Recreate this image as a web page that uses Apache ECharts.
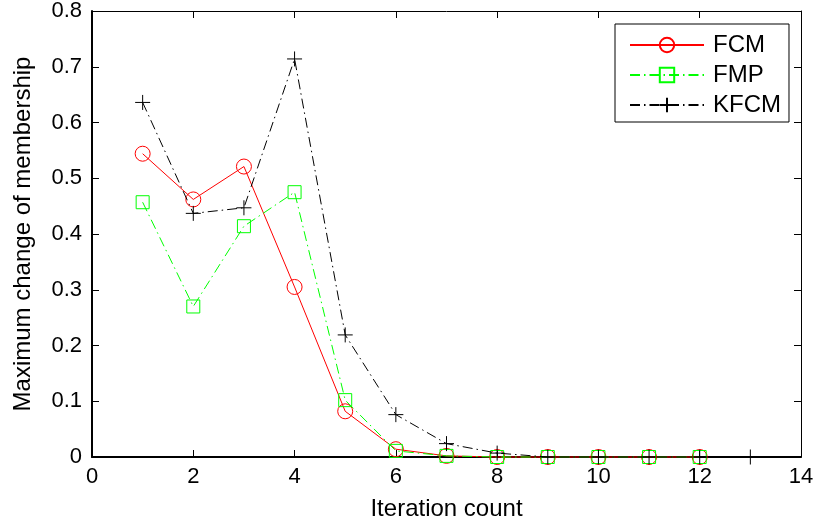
<!DOCTYPE html>
<html>
<head>
<meta charset="utf-8">
<script src="https://cdn.jsdelivr.net/npm/echarts@6/dist/echarts.min.js"></script>
<style>
  html, body { margin: 0; padding: 0; background: #fff; }
  #chart { width: 819px; height: 527px; }
</style>
</head>
<body>
<div id="chart"></div>
<script>
// Iteration index for each algorithm run
const iterFCM  = [1, 2, 3, 4, 5, 6, 7, 8, 9, 10, 11, 12];
const iterFMP  = [1, 2, 3, 4, 5, 6, 7, 8, 9, 10, 11, 12];
const iterKFCM = [1, 2, 3, 4, 5, 6, 7, 8, 9, 10, 11, 12, 13];

// Maximum change of membership per iteration
const valFCM  = [0.544, 0.462, 0.521, 0.305, 0.082, 0.014, 0.002, 0, 0, 0, 0, 0];
const valFMP  = [0.457, 0.270, 0.414, 0.475, 0.102, 0.011, 0.002, 0, 0, 0, 0, 0];
const valKFCM = [0.636, 0.437, 0.447, 0.714, 0.219, 0.076, 0.024, 0.007, 0, 0, 0, 0, 0];

// Axis tick settings
const xTicks = { min: 0, max: 14, interval: 2 };
const yTicks = { min: 0, max: 0.8, interval: 0.1 };

const seriesNames = ['FCM', 'FMP', 'KFCM'];

const FONT = 'Liberation Sans, Arial, Helvetica, sans-serif';
const pairs = (xs, ys) => xs.map((x, i) => [x, ys[i]]);

// Box-style axis: line plus inward ticks
const boxAxis = (lineWidth, extra) => Object.assign({
  axisLine: { show: true, onZero: false, lineStyle: { color: '#000', width: lineWidth } },
  axisTick: { show: true, inside: true, length: 7, lineStyle: { color: '#000', width: 1 } },
  splitLine: { show: false }
}, extra);

const chart = echarts.init(document.getElementById('chart'), null, { renderer: 'canvas' });

chart.setOption({
  backgroundColor: '#fff',
  animation: false,
  textStyle: { fontFamily: FONT, color: '#000' },
  grid: { left: 92, right: 18, top: 11, bottom: 70, containLabel: false },
  xAxis: [
    boxAxis(2, {
      type: 'value', position: 'bottom',
      min: xTicks.min, max: xTicks.max, interval: xTicks.interval,
      axisLabel: { show: true, color: '#000', fontSize: 22, fontFamily: FONT, margin: 9 },
      name: 'Iteration count', nameLocation: 'middle', nameGap: 40,
      nameTextStyle: { fontSize: 24, color: '#000', fontFamily: FONT }
    }),
    boxAxis(1, {
      type: 'value', position: 'top',
      min: xTicks.min, max: xTicks.max, interval: xTicks.interval,
      axisLabel: { show: false }
    })
  ],
  yAxis: [
    boxAxis(2, {
      type: 'value', position: 'left',
      min: yTicks.min, max: yTicks.max, interval: yTicks.interval,
      axisLabel: { show: true, color: '#000', fontSize: 22, fontFamily: FONT, margin: 10,
                   formatter: v => (v === 0 ? '0' : v.toFixed(1)) },
      name: 'Maximum change of membership', nameLocation: 'middle', nameGap: 57,
      nameTextStyle: { fontSize: 24, color: '#000', fontFamily: FONT }
    }),
    boxAxis(1, {
      type: 'value', position: 'right',
      min: yTicks.min, max: yTicks.max, interval: yTicks.interval,
      axisLabel: { show: false }
    })
  ],
  legend: {
    show: true,
    orient: 'vertical',
    left: 615,
    top: 24,
    padding: [9, 8, 5, 14],
    itemWidth: 74,
    itemHeight: 18,
    itemGap: 6,
    borderColor: '#000',
    borderWidth: 1,
    backgroundColor: '#fff',
    textStyle: { fontSize: 24, color: '#000', fontFamily: FONT, padding: [0, 0, 0, 4] },
    data: seriesNames
  },
  series: [
    {
      name: seriesNames[0],
      type: 'line',
      data: pairs(iterFCM, valFCM),
      clip: false,
      symbol: 'circle',
      symbolSize: 15,
      itemStyle: { color: 'transparent', borderColor: '#ff0000', borderWidth: 1 },
      lineStyle: { color: '#ff0000', width: 1, type: 'solid' },
      z: 2
    },
    {
      name: seriesNames[1],
      type: 'line',
      data: pairs(iterFMP, valFMP),
      clip: false,
      symbol: 'rect',
      symbolSize: 13,
      itemStyle: { color: 'transparent', borderColor: '#00ff00', borderWidth: 1 },
      lineStyle: { color: '#00ff00', width: 1, type: [10, 4, 1.5, 4] },
      z: 3
    },
    {
      name: seriesNames[2],
      type: 'line',
      data: pairs(iterKFCM, valKFCM),
      clip: false,
      symbol: 'path://M5,0L5,10M0,5L10,5',
      symbolSize: 15,
      itemStyle: { color: 'transparent', borderColor: '#000000', borderWidth: 1 },
      lineStyle: { color: '#000000', width: 1, type: [10, 4, 1.5, 4] },
      z: 4
    }
  ]
});
</script>
</body>
</html>
